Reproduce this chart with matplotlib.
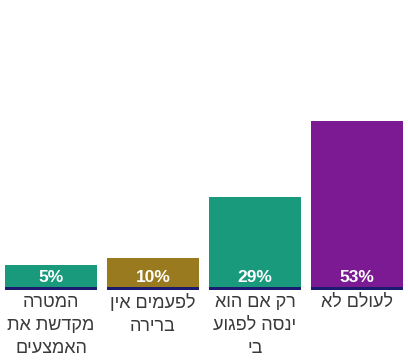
import matplotlib
matplotlib.use("Agg")
import matplotlib.pyplot as plt

# נתונים
categories = ["המטרה\nמקדשת את\nהאמצעים", "לפעמים אין\nברירה", "רק אם הוא\nינסה לפגוע\nבי", "לעולם לא"]
values = [5, 10, 29, 53]
colors = ["#1a9a7c", "#9a7a1e", "#1a9a7c", "#7c1a94"]
min_height = 7.8  # korte søjler tegnes med en minimumshøjde

plt.rcParams['font.family'] = ['Liberation Sans', 'DejaVu Sans']

def rtl(text):
    # matplotlib har ingen bidi -> vend hver linje
    return "\n".join(line[::-1] for line in text.split("\n"))

fig = plt.figure(figsize=(4.08, 3.64), dpi=100)
ax = fig.add_axes([0.0, 1 - 290 / 364, 1.0, 290 / 364])

x = range(len(values))
heights = [max(v, min_height) for v in values]
ax.bar(x, heights, width=0.91, color=colors)
ax.bar(x, 0.9, width=0.91, color="#1a1a6e")

for i, v in enumerate(values):
    ax.annotate(f"{v}%", (i, 0), xytext=(0, 13), textcoords="offset pixels",
                ha="center", va="center", color="white", fontweight="bold",
                fontsize=12.5, family=['Liberation Sans Narrow', 'Liberation Sans'])
    ax.annotate(rtl(categories[i]), (i, 0), xytext=(0, -4), textcoords="offset pixels",
                ha="center", va="top", color="#3a3a3a", fontsize=13,
                linespacing=1.45, annotation_clip=False)

ax.set_xlim(-0.5, 3.5)
ax.set_ylim(0, 90.9)
ax.axis("off")

fig.savefig("out.png", dpi=100)
